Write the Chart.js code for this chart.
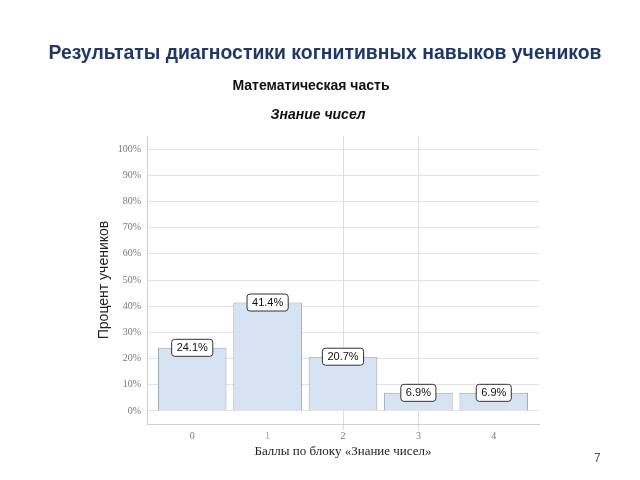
<!DOCTYPE html>
<html>
<head>
<meta charset="utf-8">
<script src="https://cdn.jsdelivr.net/npm/chart.js@4.4.0/dist/chart.umd.min.js"></script>
<style>
  html, body { margin: 0; padding: 0; background: #fff; }
  #wrap { position: relative; width: 640px; height: 480px; overflow: hidden; }
  #grafico { position: absolute; left: 0; top: 0; }
  .titulo { position: absolute; left: 0; width: 640px; text-align: center; font-family: "Liberation Sans Narrow", "Liberation Sans", sans-serif; }
  #t1 { top: 41px; left: 5px; font-size: 20px; font-weight: bold; color: #1f3864; transform: scaleX(0.97); }
  #t2 { top: 77px; left: -9px; font-size: 14px; font-weight: bold; color: #111; }
  #t3 { top: 106px; left: -2px; font-size: 14px; font-weight: bold; font-style: italic; color: #111; }
  #pagina { position: absolute; left: 594px; top: 451px; font-family: "Liberation Sans", sans-serif; font-size: 12px; color: #555; }
</style>
</head>
<body>
<div id="wrap">
  <canvas id="grafico" width="640" height="480"></canvas>
  <div class="titulo" id="t1">Результаты диагностики когнитивных навыков учеников</div>
  <div class="titulo" id="t2">Математическая часть</div>
  <div class="titulo" id="t3">Знание чисел</div>
  <div id="pagina">7</div>
</div>
<script>
const puntos = [0, 1, 2, 3, 4];
const porcentajes = [24.1, 41.4, 20.7, 6.9, 6.9];
const marcasY = [0, 10, 20, 30, 40, 50, 60, 70, 80, 90, 100];
const lineasX = [2, 3];

// etiquetas con recuadro blanco encima de cada barra
const etiquetas = {
    id: 'etiquetas',
    afterDatasetsDraw(chart) {
        const ctx = chart.ctx;
        const meta = chart.getDatasetMeta(0);
        ctx.save();
        ctx.font = '11px "Liberation Sans", Arial, sans-serif';
        ctx.textAlign = 'center';
        ctx.textBaseline = 'middle';
        meta.data.forEach((barra, i) => {
            const texto = porcentajes[i].toFixed(1) + '%';
            const w = ctx.measureText(texto).width + 10;
            const h = 17;
            const x = barra.x - w / 2;
            const y = barra.y - h / 2;
            ctx.beginPath();
            ctx.roundRect(x, y, w, h, 3);
            ctx.fillStyle = '#ffffff';
            ctx.fill();
            ctx.lineWidth = 1;
            ctx.strokeStyle = '#333333';
            ctx.stroke();
            ctx.fillStyle = '#111111';
            ctx.fillText(texto, barra.x, barra.y + 0.5);
        });
        ctx.restore();
    }
};

const grafico = document.getElementById('grafico');

new Chart(grafico, {
    type: 'bar',
    data: {
        datasets: [{
            data: puntos.map((p, i) => ({ x: p, y: porcentajes[i] })),
            backgroundColor: '#d5e3f2',
            borderColor: '#9ba3ab',
            borderWidth: 1,
            barPercentage: 0.91,
            categoryPercentage: 1
        }]
    },
    options: {
        responsive: false,
        animation: false,
        layout: {
            padding: { left: 96, right: 101, top: 136, bottom: 14 }
        },
        plugins: {
            legend: { display: false },
            tooltip: { enabled: false }
        },
        scales: {
            x: {
                type: 'linear',
                offset: false,
                min: -0.6,
                max: 4.6,
                afterBuildTicks: (scale) => { scale.ticks = puntos.map(v => ({ value: v })); },
                afterFit: (scale) => { scale.height = 42; },
                grid: {
                    offset: false,
                    color: (c) => c.tick && lineasX.includes(c.tick.value) ? '#dddddd' : 'rgba(0,0,0,0)',
                    tickLength: 6
                },
                border: { color: '#cfcfcf', width: 1 },
                ticks: {
                    color: (c) => c.tick && c.tick.value === 1 ? '#b8a070' : '#777777',
                    font: { family: '"Liberation Serif", serif', size: 10 },
                    padding: 0
                },
                title: {
                    display: true,
                    text: 'Баллы по блоку «Знание чисел»',
                    color: '#222222',
                    font: { family: '"Liberation Serif", serif', size: 13 },
                    padding: { top: 0, bottom: 7 }
                }
            },
            y: {
                min: -5,
                max: 105,
                afterBuildTicks: (scale) => { scale.ticks = marcasY.map(v => ({ value: v })); },
                afterFit: (scale) => { scale.width = 51; },
                grid: {
                    color: '#e3e3e3',
                    drawTicks: false
                },
                border: { color: '#cfcfcf', width: 1 },
                ticks: {
                    color: '#777777',
                    font: { family: '"Liberation Serif", serif', size: 10 },
                    padding: 6,
                    callback: (v) => v + '%'
                },
                title: {
                    display: true,
                    text: 'Процент учеников',
                    color: '#222222',
                    font: { family: '"Liberation Sans", Arial, sans-serif', size: 14 },
                    padding: 0
                }
            }
        }
    },
    plugins: [etiquetas]
});
</script>
</body>
</html>
